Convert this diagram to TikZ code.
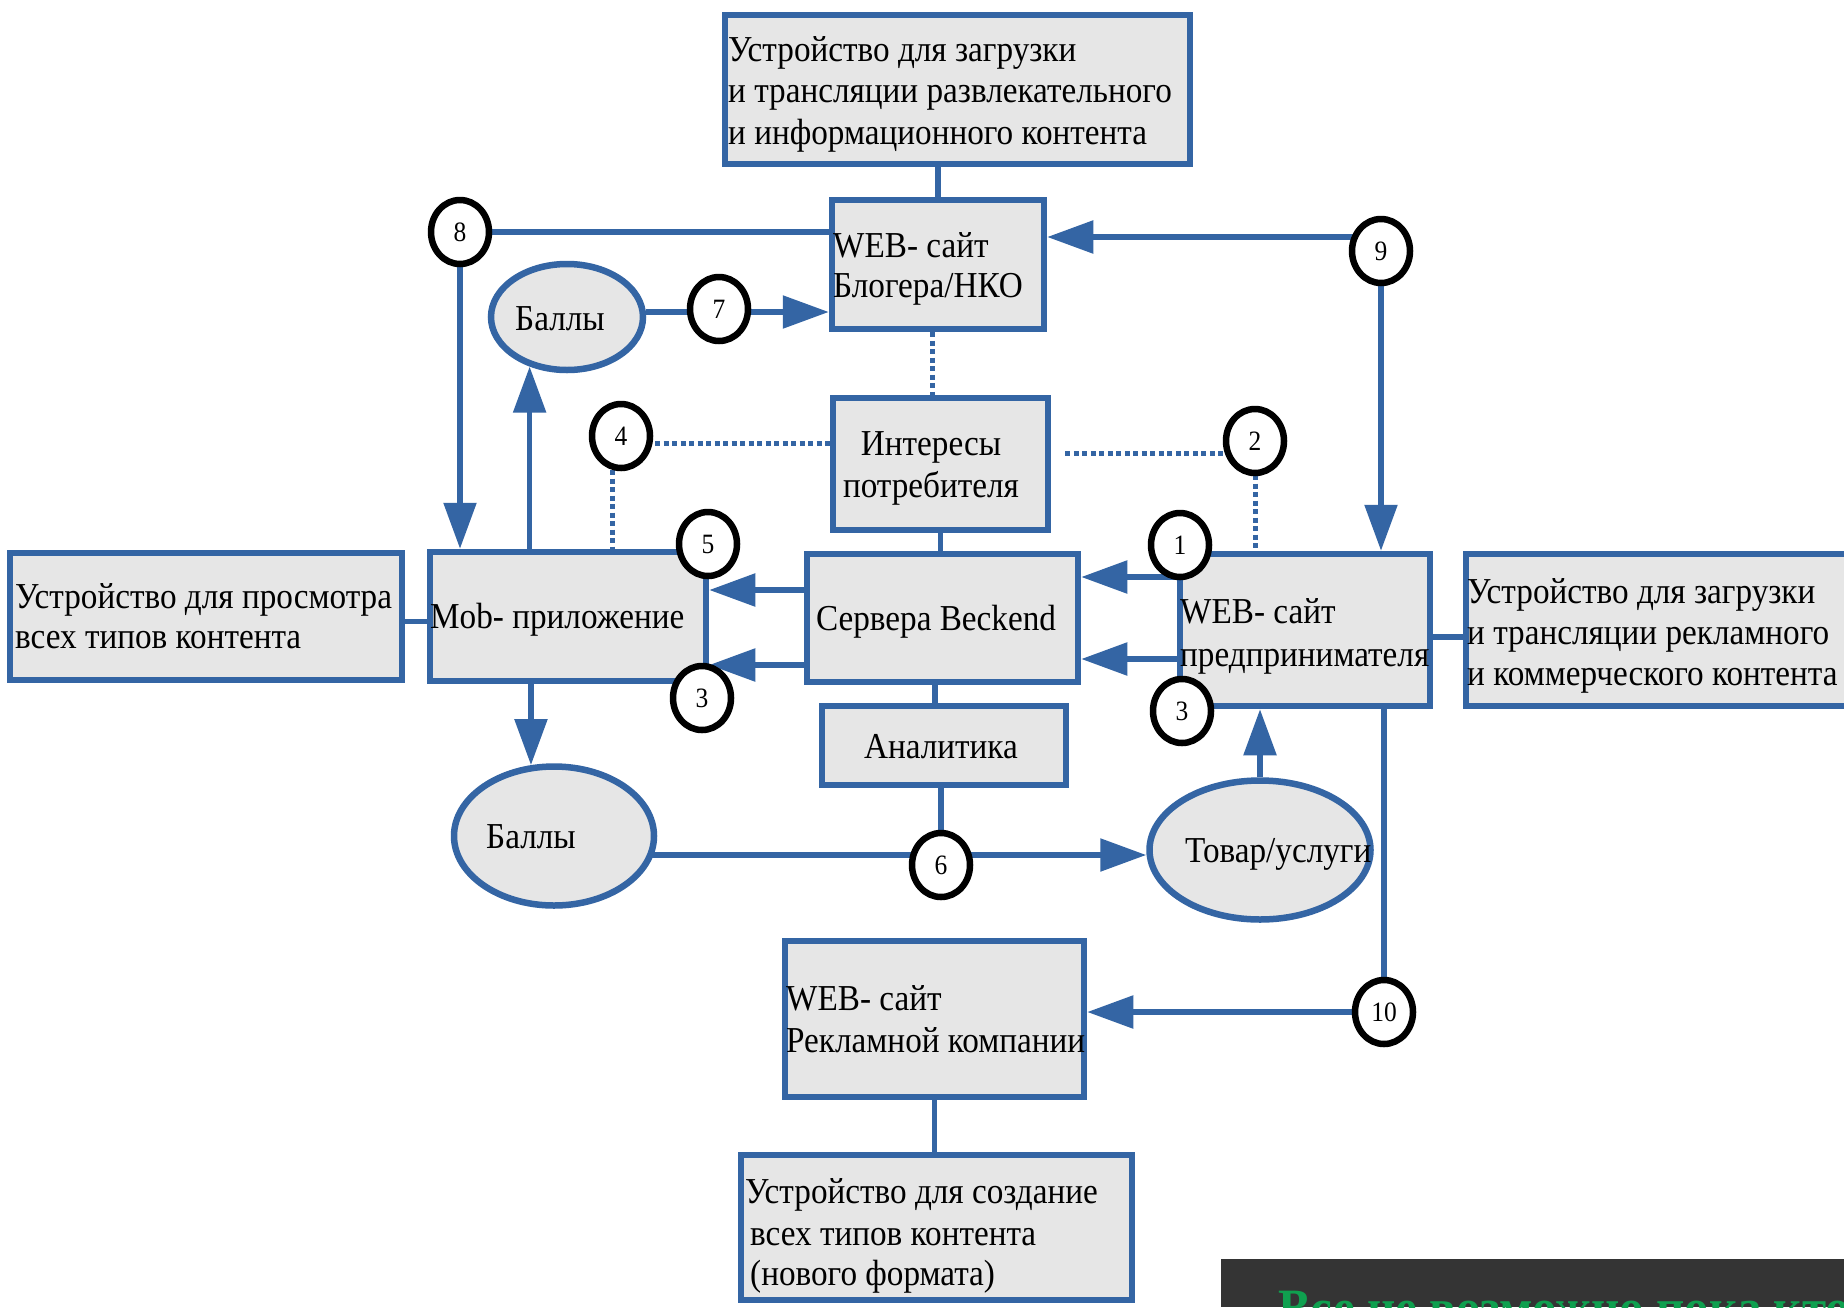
\documentclass[tikz,border=0pt]{standalone}
\usepackage{fontspec}
\setmainfont{Liberation Serif}[FakeStretch=0.91]
\usetikzlibrary{arrows.meta,shapes.geometric,fit}
\definecolor{lb}{HTML}{3465A4}
\definecolor{bgray}{HTML}{E6E6E6}
\definecolor{darkbg}{HTML}{343434}
\definecolor{grn}{HTML}{0FA04F}
\pgfdeclarelayer{bg}
\pgfsetlayers{bg,main}
\newcommand{\dfont}{\fontsize{36.5}{41.5}\selectfont}
\newcommand{\nfont}{\fontsize{28}{30}\selectfont}
\begin{document}
\begin{tikzpicture}[x=1pt,y=-1pt,
  box/.style={draw=lb,fill=bgray,line width=6.5pt,inner sep=0pt,rectangle},
  oval/.style={draw=lb,fill=bgray,line width=6.5pt,inner sep=0pt,ellipse},
  num/.style={draw=black,fill=white,line width=6.5pt,ellipse,inner sep=0pt,minimum width=58pt,minimum height=64pt,font=\nfont},
  lt/.style={anchor=base west,inner sep=0pt,font=\dfont},
  ct/.style={anchor=base,inner sep=0pt,font=\dfont},
  conn/.style={draw=lb,line width=5.5pt},
  arr/.style={conn,-{Triangle[length=46pt,width=32pt]}},
  dotln/.style={draw=lb,line width=5pt,dash pattern=on 5pt off 3.5pt},
]
\useasboundingbox (0,0) rectangle (1844,1307);
\clip (0,0) rectangle (1844,1307);

% boxes
\node[box, fit={(725,15)(1190,164)}] (dtop) {};
\node[box, fit={(832,200)(1044,329)}] (blog) {};
\node[box, fit={(833,398)(1048,530)}] (inter) {};
\node[box, fit={(807,554)(1078,682)}] (serv) {};
\node[box, fit={(822,706)(1066,785)}] (anal) {};
\node[box, fit={(430,552)(706,681)}] (mob) {};
\node[box, fit={(10,553)(402,680)}] (dleft) {};
\node[box, fit={(1180,554)(1430,706)}] (ent) {};
\node[box, fit={(1466,554)(1870,706)}] (dright) {};
\node[box, fit={(785,941)(1084,1097)}] (wadv) {};
\node[box, fit={(741,1155)(1132,1300)}] (dbot) {};

% ellipses
\node[oval, minimum width=152pt, minimum height=106pt] (b1) at (567,317) {};
\node[oval, minimum width=200pt, minimum height=139pt] (b2) at (554,836) {};
\node[oval, minimum width=221pt, minimum height=139pt] (tov) at (1260,850) {};

% numbered circles
\node[num] (c8) at (460,232) {8};
\node[num] (c7) at (719,309) {7};
\node[num] (c9) at (1381,251) {9};
\node[num] (c4) at (621,436) {4};
\node[num] (c2) at (1255,441) {2};
\node[num] (c5) at (708,544) {5};
\node[num] (c1) at (1180,545) {1};
\node[num] (c3l) at (702,698) {3};
\node[num] (c3r) at (1182,711) {3};
\node[num] (c6) at (941,865) {6};
\node[num] (c10) at (1384,1012) {10};

% texts
\node[lt] at (728,61) {Устройство для загрузки};
\node[lt] at (728,102.5) {и трансляции развлекательного};
\node[lt] at (728,144) {и информационного контента};
\node[lt] at (833,257) {WEB- сайт};
\node[lt] at (833,297) {Блогера/НКО};
\node[ct] at (931,455) {Интересы};
\node[ct] at (931,497) {потребителя};
\node[ct] at (936,630) {Сервера Beckend};
\node[ct] at (941,758) {Аналитика};
\node[lt] at (430,628) {Mob- приложение};
\node[lt] at (15,608) {Устройство для просмотра};
\node[lt] at (15,648) {всех типов контента};
\node[lt] at (1180,623) {WEB- сайт};
\node[lt] at (1180,666) {предпринимателя};
\node[lt] at (1467,603) {Устройство для загрузки};
\node[lt] at (1467,644) {и трансляции рекламного};
\node[lt] at (1467,685) {и коммерческого контента};
\node[ct] at (560,330) {Баллы};
\node[lt] at (486,848) {Баллы};
\node[lt] at (1185,862) {Товар/услуги};
\node[lt] at (786,1010) {WEB- сайт};
\node[lt] at (786,1052) {Рекламной компании};
\node[lt] at (745,1203) {Устройство для создание};
\node[lt] at (750,1245) {всех типов контента};
\node[lt] at (750,1285) {(нового формата)};

% dark banner
\fill[darkbg] (1221,1259) rectangle (1844,1307);
\node[anchor=base west, inner sep=0pt, font=\fontsize{54}{58}\selectfont\bfseries, text=grn] (banner) at (1278,1326) {Все не возможно пока кто};

\begin{pgfonlayer}{bg}
\fill[white] (0,0) rectangle (1844,1307);
% solid connectors
\draw[conn] (blog.north) -- (blog.north |- dtop.south);
\draw[conn] (c8.center) -- (c8.center -| blog.west);
\draw[arr] (c8.center) -- (c8.center |- mob.north);
\draw[arr] ([yshift=14pt]c9.center) -- ([yshift=14pt]c9.center -| blog.east);
\draw[arr] (c9.center) -- (c9.center |- ent.north);
\draw[arr] ([yshift=-3pt]b1.east |- c7.center) -- ([yshift=-3pt]c7.center -| blog.west);
\draw[arr] (b1.233 |- mob.north) -- (b1.233);
\draw[arr] (b2.108 |- mob.south) -- (b2.108);
\draw[arr] ([yshift=28pt]serv.west) -- ([yshift=28pt]serv.west -| mob.east);
\draw[arr] ([yshift=-47pt]serv.west) -- ([yshift=-47pt]serv.west -| mob.east);
\draw[arr] ([yshift=53pt]ent.west) -- ([yshift=53pt]ent.west -| serv.east);
\draw[arr] ([yshift=-29pt]ent.west) -- ([yshift=-29pt]ent.west -| serv.east);
\draw[conn] (inter.south) -- (inter.south |- serv.north);
\draw[conn] ([xshift=-9pt]anal.north) -- ([xshift=-9pt]anal.north |- serv.south);
\draw[conn] (c6.center |- anal.south) -- (c6.center);
\draw[arr] ([yshift=-19pt]b2.center) -- ([yshift=-19pt]b2.center -| tov.west);
\draw[arr] (tov.north) -- (tov.north |- ent.south);
\draw[conn] (c10.center |- ent.south) -- (c10.center);
\draw[arr] (c10.center) -- (c10.center -| wadv.east);
\draw[conn] (wadv.south) -- (wadv.south |- dbot.north);
\draw[conn] ([yshift=-7pt]ent.east) -- ([yshift=-7pt]ent.east -| dright.west);
\draw[conn] ([yshift=-5pt]dleft.east) -- ([yshift=-5pt]dleft.east -| mob.west);
% dotted connectors
\draw[dotln] ([xshift=-6pt]blog.south) -- ([xshift=-6pt]blog.south |- inter.north);
\draw[dotln] ([yshift=-7pt]c4.center) -- ([yshift=-7pt]c4.center -| inter.west);
\draw[dotln] ([xshift=-9pt]c4.center) -- ([xshift=-9pt]c4.center |- mob.north);
\draw[dotln] ([xshift=14pt,yshift=11pt]inter.east) -- ([xshift=14pt,yshift=11pt]inter.east -| c2.center);
\draw[dotln] (c2.center) -- (c2.center |- ent.north);
\end{pgfonlayer}
\end{tikzpicture}
\end{document}
